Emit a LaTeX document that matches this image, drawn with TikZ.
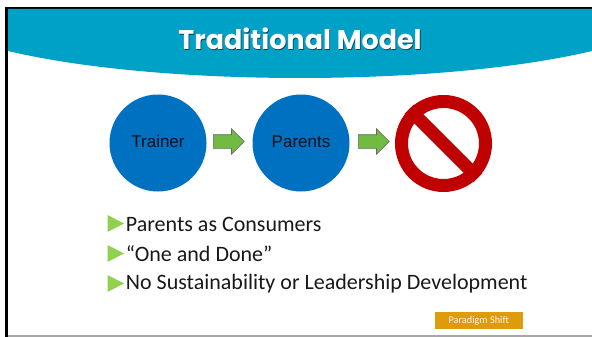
\documentclass[tikz,border=0pt]{standalone}
\usepackage{fontspec}
\setmainfont{Carlito}
\newfontfamily\titlefont{Poppins}
\newfontfamily\circlefont{Liberation Sans}
\usetikzlibrary{shapes.arrows}
\definecolor{banner}{RGB}{0,161,198}
\definecolor{disc}{RGB}{0,112,192}
\definecolor{stopred}{RGB}{192,0,0}
\definecolor{shaftgreen}{RGB}{112,187,64}
\definecolor{bulletgreen}{RGB}{146,208,80}
\definecolor{tagorange}{RGB}{222,155,12}
\tikzset{
	disc/.style = {circle, fill = disc, minimum size = 97pt, inner sep = 0, font = \circlefont\fontsize{17}{17}\selectfont, text = black!85!disc},
	blockarrow/.style = {single arrow, draw = black!60, fill = shaftgreen, line width = 0.6pt, text height = 13pt, text depth = 0pt, minimum height = 31pt, single arrow head extend = 6pt, single arrow tip angle = 90, inner sep = 0, anchor = west},
	point/.style = {anchor = west, inner sep = 0, font = \fontsize{22}{22}\selectfont, text = black!90}
}
\begin{document}
\begin{tikzpicture}[x = 1pt, y = -1pt, > = latex]

	\useasboundingbox (0, 0) rectangle (592, 337);

	% Frame and banner

	\fill [black] (5, 7) rectangle (592, 337);
	\fill [white] (8, 9) rectangle (592, 335);
	\fill [black!35] (8, 335) rectangle (592, 337);
	\fill [banner] (8, 9) -- (8, 51) .. controls (160, 87) and (440, 87) .. (592, 51) -- (592, 9) -- cycle;
	\node (shadow) [font = \titlefont\bfseries\fontsize{27}{27}\selectfont, text = black!55!banner] at (300.8, 39.8) {Traditional Model};
	\node (title) [font = \titlefont\bfseries\fontsize{27}{27}\selectfont, text = white] at (300, 39) {Traditional Model};

	% Discs and arrows

	\node (trainer) [disc] at (158, 143) {\raisebox{3pt}{Trainer}};
	\node (parents) [disc] at (301, 143) {\raisebox{3pt}{Parents}};
	\node (first) [blockarrow] at (213, 141.5) {};
	\node (second) [blockarrow] at (358, 141.5) {};

	% Prohibition sign

	\node (stop) [circle, draw = stopred, line width = 13pt, minimum size = 84pt, inner sep = 0] at (443.5, 143.5) {};
	\draw [stopred, line width = 13pt] (stop.135) -- (stop.-45);

	% Bullet points

	\node (consumers) [point] at (125.7, 224) {Parents as Consumers};
	\node (done) [point] at (125.7, 254) {“One and Done”};
	\node (leadership) [point] at (125.7, 284) {No Sustainability or Leadership Development};
	\foreach \y in {223.5, 253.5, 283.5}
		\fill [bulletgreen] (107.5, \y - 8.5) -- (124, \y) -- (107.5, \y + 8.5) -- cycle;

	% Tag

	\node (tag) [fill = tagorange, minimum width = 88pt, minimum height = 17pt, inner sep = 0, text = white!90!tagorange, font = \fontsize{10.3}{10.3}\selectfont] at (478.7, 320.5) {Paradigm Shift};

\end{tikzpicture}
\end{document}
